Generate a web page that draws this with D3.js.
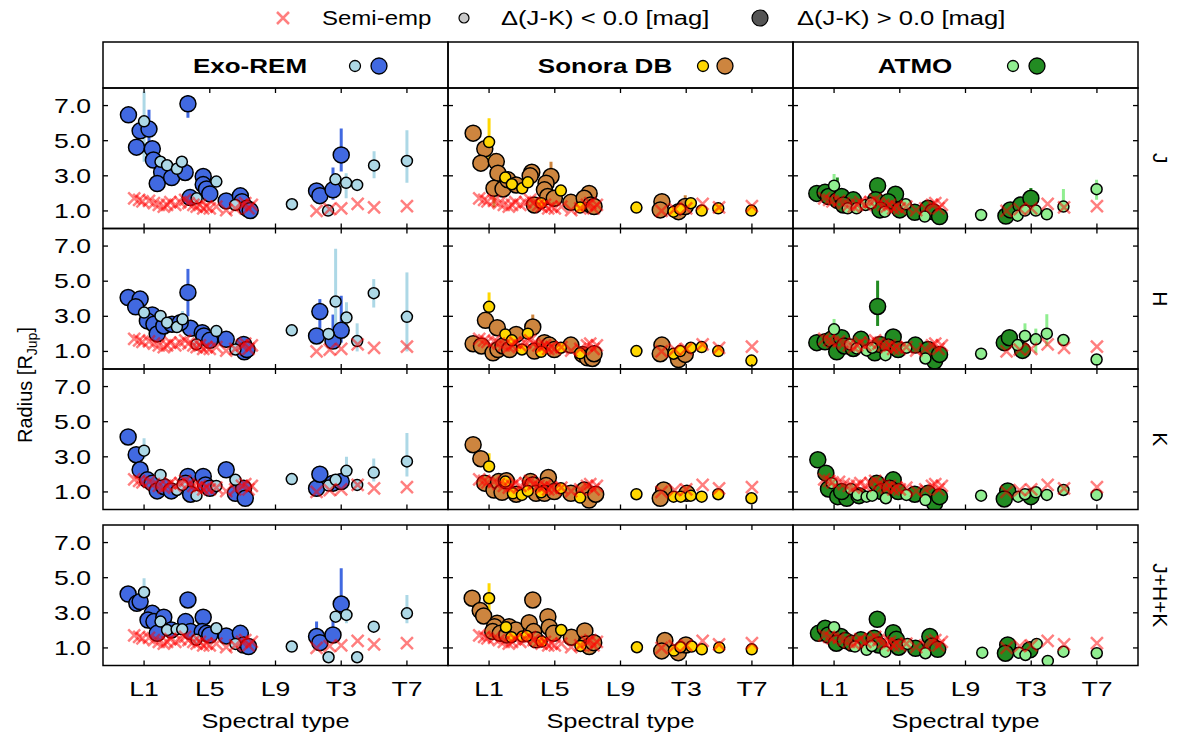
<!DOCTYPE html>
<html><head><meta charset="utf-8">
<script src="https://cdn.jsdelivr.net/npm/d3@7"></script>
<style>body{margin:0;background:#fff}text{font-family:"Liberation Sans",Arial,sans-serif}</style>
</head><body><svg id="c" width="1180" height="734"></svg>
<script>
const models = ["Exo-REM","Sonora DB","ATMO"];
const bands = ["J","H","K","J+H+K"];
const bigColors = ["#4169e1","#cd853f","#228b22"];
const smallColors = ["#add8e6","#ffd700","#90ee90"];
const xTickVals = [1,5,9,13,17];
const xTickLabels = ["L1","L5","L9","T3","T7"];
const yTickVals = [1,3,5,7];
const yTickLabels = ["1.0","3.0","5.0","7.0"];

// semi-empirical radii [spectral type index, radius]
const semiEmp = [[0.4,1.72],[0.7,1.63],[0.9,1.55],[1.3,1.57],[1.6,1.44],[1.9,1.34],[2.2,1.25],[2.4,1.34],[2.6,1.5],[2.9,1.34],[3.2,1.5],[3.5,1.63],[3.7,1.44],[4.0,1.34],[4.2,1.25],[4.4,1.34],[4.6,1.15],[4.8,1.25],[5.0,1.15],[5.4,1.25],[6.0,1.05],[6.55,1.15],[6.96,1.34],[7.16,1.44],[7.36,1.15],[7.56,1.34],[11.5,1.0],[12.3,1.1],[13.0,1.15],[14.0,1.4],[15.0,1.2],[17.0,1.28]];

// [spt, radius, big(ΔJ-K>0), errLow, errHigh]
const exoremJ = [[0.05,6.47,1],[3.67,7.1,1,6.3,7.6],[0.76,5.56,1],[1.3,5.66,1,4.76,6.76],[0.54,4.63,1],[1.5,4.54,1],[1.57,3.9,1],[2.07,3.2,1],[1.8,2.56,1],[2.68,2.9,1],[3.5,3.19,1],[4.6,2.96,1],[4.6,2.5,1],[4.8,2.25,1],[5.0,1.97,1],[3.8,1.76,1],[6.0,1.57,1],[6.86,1.86,1],[6.96,1.53,1],[7.26,1.15,1],[7.46,1.02,1],[11.5,2.14,1],[11.7,1.87,1],[12.5,2.2,1,1.63,3.47],[13.0,4.19,1,3.24,5.7],
 [1.0,6.1,0,3.8,7.8],[2.0,3.8,0],[2.4,3.6,0],[3.0,3.4,0],[3.3,3.8,0,3.5,4.1],[5.4,2.67,0],[4.2,1.72,0],[6.55,1.34,0],[10.0,1.38,0],[12.2,1.02,0],[12.65,2.8,0],[13.3,2.6,0,1.72,3.15],[13.97,2.48,0],[15.0,3.59,0,2.86,4.4],[17.0,3.85,0,2.6,5.6]];
const exoremH = [[0.03,4.07,1],[0.76,3.98,1],[0.49,3.54,1],[1.5,3.08,1],[1.2,2.74,1],[1.6,2.55,1],[1.8,2.0,1],[2.2,2.45,1],[2.7,2.55,1],[3.67,4.36,1,3.0,5.7],[3.83,2.32,1],[3.2,2.64,1],[4.54,2.07,1],[4.64,1.88,1],[5.0,1.63,1],[6.0,1.69,1],[7.06,1.4,1],[7.1,0.98,1],[7.26,1.11,1],[11.5,1.88,1],[11.7,3.27,1,2.3,3.98],[12.5,1.59,1,1.3,3.1],[13.0,2.2,1,1.5,4.17],
 [1.0,3.21,0],[2.0,3.02,0],[2.4,2.64,0],[3.0,2.39,0],[3.34,2.83,0,2.6,3.3],[5.4,2.16,0,1.9,2.5],[4.19,1.4,0],[6.56,1.11,0],[9.99,2.2,0],[12.23,2.0,0],[12.66,3.84,0,1.69,6.84],[13.32,2.93,0,2.0,3.8],[13.97,1.59,0,1.0,2.6],[14.98,4.32,0,3.5,5.12],[17.0,2.97,0,1.0,5.5]];
const exoremK = [[0.03,4.13,1],[0.52,3.12,1],[0.76,2.26,1],[1.2,1.69,1],[1.5,1.5,1],[1.8,1.06,1],[2.2,1.31,1],[2.66,1.06,1],[3.67,1.88,1],[3.53,1.5,1],[3.83,0.87,1],[4.6,1.88,1],[4.74,1.4,1],[5.0,1.21,1],[6.0,2.26,1],[6.56,0.92,1],[7.06,1.21,1],[7.16,0.64,1],[11.5,1.21,1],[11.7,2.01,1],[12.5,1.5,1],[13.0,1.59,1],
 [1.0,3.35,0,2.9,4.05],[2.0,1.97,0],[3.0,1.11,0],[3.34,1.4,0],[4.19,0.79,0],[5.4,1.34,0],[6.56,1.69,0],[9.99,1.73,0],[12.23,1.36,0],[12.66,1.69,0],[13.32,2.2,0,1.8,3.0],[13.97,1.4,0],[14.98,2.1,0,1.6,2.9],[17.0,2.74,0,1.88,4.36]];
const exoremJHK = [[0.03,4.07,1],[0.56,3.54,1],[0.76,3.64,1],[1.5,2.97,1],[1.24,2.59,1],[1.6,2.5,1],[1.8,1.83,1],[2.2,2.75,1],[2.66,2.02,1],[3.67,3.73,1],[3.53,2.5,1],[3.83,1.93,1],[4.6,2.75,1],[4.54,1.93,1],[4.8,1.83,1],[5.0,1.74,1],[6.0,1.68,1],[6.86,1.83,1],[7.06,1.17,1],[7.36,1.08,1],[11.5,1.65,1,1.55,2.5],[11.7,1.3,1],[12.5,1.74,1,1.6,2.6],[13.0,3.5,1,2.69,5.54],
 [1.0,4.17,0,3.92,4.97],[2.0,2.5,0],[2.4,2.02,0],[2.98,2.06,0],[3.32,2.06,0],[5.4,2.12,0],[4.19,1.46,0],[6.56,1.23,0],[9.99,1.08,0],[12.23,0.47,0],[12.66,2.78,0],[13.32,2.88,0,2.4,3.2],[13.97,0.47,0],[14.98,2.21,0],[17.0,2.97,0,2.4,4.02]];

const sonoraJ = [[0.03,5.43,1],[0.74,4.54,1],[0.5,3.72,1],[1.44,3.81,1],[1.54,3.15,1],[1.3,2.29,1,1.2,4.3],[1.85,2.25,1],[2.15,2.77,1],[2.65,2.48,1],[3.6,3.2,1],[3.5,3.0,1],[4.77,2.96,1,2.9,3.8],[4.47,2.58,1],[4.37,2.2,1],[4.57,1.82,1],[4.97,1.72,1],[3.76,1.34,1],[5.98,1.49,1],[7.09,2.0,1],[6.79,1.72,1],[7.19,1.34,1],[7.39,1.25,1],[11.52,1.53,1],[11.42,1.06,1],[12.53,0.96,1],[12.94,1.25,1,1.1,1.9],
 [1.0,4.92,0,3.9,6.28],[1.99,2.9,0],[2.39,2.52,0],[3.02,2.29,0],[3.36,2.63,0],[5.37,2.16,0],[4.17,1.44,0],[6.54,1.19,0],[9.97,1.19,0],[12.23,0.96,0],[12.63,1.1,0],[13.28,1.44,0],[13.94,1.02,0],[14.95,1.15,0],[16.97,1.02,0]];
const sonoraH = [[0.03,1.44,1],[0.54,1.31,1],[0.78,2.77,1],[1.5,2.35,1],[1.24,0.92,1],[1.54,1.11,1],[1.85,1.31,1],[2.25,1.11,1],[2.65,1.97,1],[3.66,2.39,1,2.2,3.1],[3.76,1.02,1],[4.37,1.5,1],[4.67,1.36,1],[4.97,1.11,1],[5.98,1.36,1],[6.69,0.83,1],[6.99,0.64,1],[7.29,0.6,1],[7.39,0.87,1],[11.52,1.36,1],[11.42,0.87,1],[12.53,0.54,1],[12.94,0.83,1],
 [1.0,3.54,0,3.2,4.36],[1.99,1.97,0],[2.39,1.63,0],[3.0,1.11,0],[3.36,2.01,0],[5.37,1.21,0],[4.17,0.98,0],[6.54,0.89,0],[9.97,1.02,0],[12.23,0.87,0],[12.63,1.02,0],[13.28,1.21,0],[13.94,1.25,0],[14.95,1.02,0],[16.97,0.48,0]];
const sonoraK = [[0.03,3.69,1],[0.5,2.89,1],[0.74,1.5,1],[1.3,1.11,1],[1.58,1.59,1],[1.79,0.98,1],[2.05,1.63,1],[2.65,0.87,1],[3.52,1.59,1],[3.66,1.4,1],[3.86,0.92,1],[4.61,1.82,1],[4.47,1.36,1],[4.37,0.92,1],[4.97,1.02,1],[5.98,0.92,1],[6.79,1.11,1],[7.09,0.54,1],[7.49,0.87,1],[11.63,1.11,1],[11.42,0.64,1],[13.04,0.92,1],
 [1.0,2.45,0,2.3,3.2],[1.99,1.59,0],[2.45,0.92,0],[3.0,0.83,0],[3.36,1.06,0],[5.37,1.21,0],[4.17,0.98,0],[6.54,0.68,0],[9.97,0.87,0],[12.23,0.73,0],[12.67,0.73,0],[13.28,0.79,0],[13.94,0.73,0],[14.95,0.87,0],[16.97,0.64,0]];
const sonoraJHK = [[-0.03,3.83,1],[0.46,3.13,1],[0.67,2.82,1],[1.49,2.4,1],[1.33,2.21,1],[1.22,1.93,1],[1.68,1.83,1],[2.22,2.21,1],[2.08,1.74,1],[2.63,2.02,1],[3.66,3.73,1],[3.44,2.44,1],[3.71,1.93,1],[3.85,1.46,1],[4.58,2.78,1],[4.66,2.18,1],[4.93,1.83,1],[6.01,1.61,1],[6.83,1.97,1],[6.91,1.23,1],[7.1,1.08,1],[7.37,1.3,1],[11.7,1.42,1],[11.51,0.83,1],[12.52,0.73,1],[12.98,1.17,1],
 [1.0,3.83,0,3.16,4.68],[2.03,2.18,0],[2.36,1.61,0],[3.03,1.65,0],[3.3,1.68,0],[5.39,2.02,0],[4.2,1.36,0],[6.56,1.11,0],[10.0,1.04,0],[12.25,0.85,0],[12.65,1.04,0],[13.33,1.08,0],[13.95,0.92,0],[15.01,1.02,0],[16.99,0.92,0]];

const atmoJ = [[-0.05,2.0,1],[0.45,2.06,1],[0.66,1.82,1],[1.2,1.6,1,1.6,2.9],[1.46,1.82,1],[2.17,1.63,1],[1.57,1.34,1],[3.65,2.44,1],[3.53,1.63,1],[4.74,1.95,1],[4.29,1.53,1],[3.79,1.06,1],[5.0,1.06,1],[5.91,0.92,1],[6.72,1.15,1],[7.02,0.96,1],[7.42,0.68,1],[11.46,0.71,1],[11.73,1.06,1],[12.37,1.34,1],[12.98,1.72,1,1.5,2.3],
 [1.0,2.44,0,2.3,3.1],[1.83,1.15,0],[2.37,1.15,0],[2.92,1.34,0],[3.24,1.44,0],[5.36,1.38,0],[4.09,0.96,0],[6.52,0.68,0],[9.95,0.77,0],[12.17,0.73,0],[12.62,1.02,0],[13.28,1.02,0],[13.95,0.81,0],[14.96,1.25,0,1.2,2.25],[16.98,2.24,0,1.63,2.77]];
const atmoH = [[-0.05,1.5,1],[0.45,1.55,1],[0.82,1.69,1],[1.46,1.78,1],[1.16,0.98,1],[1.63,1.31,1],[2.17,1.17,1],[2.64,1.69,1],[3.65,3.56,1,2.45,5.03],[3.48,0.92,1],[3.79,1.4,1],[4.6,1.82,1],[4.29,1.25,1],[4.9,1.11,1],[5.95,1.36,1],[6.72,1.11,1],[7.12,0.45,1],[7.42,0.83,1],[11.36,1.5,1],[11.67,1.78,1],[12.47,1.06,1],
 [1.0,2.26,0,2.0,2.85],[1.97,1.4,0],[2.37,1.17,0],[2.98,1.06,0],[3.32,1.21,0],[5.4,1.21,0],[4.13,0.79,0],[6.56,0.6,0],[9.95,0.87,0],[12.17,1.36,0],[12.62,1.88,0,0.7,2.6],[13.28,1.69,0,0.9,2.3],[13.95,2.01,0,1.31,3.12],[14.96,1.65,0],[16.98,0.54,0]];
const atmoK = [[0.01,2.83,1],[0.5,2.07,1],[0.66,1.17,1],[1.22,0.73,1],[1.77,0.64,1],[1.46,1.02,1],[2.52,0.79,1],[3.59,1.5,1],[3.89,1.02,1],[4.6,1.69,1],[4.39,1.21,1],[4.9,1.02,1],[5.91,0.87,1],[6.72,0.92,1],[7.12,0.35,1],[7.42,0.73,1],[11.57,1.06,1],[11.36,0.6,1],[12.98,0.73,1],
 [0.86,1.5,0],[2.03,1.17,0],[2.43,0.83,0],[2.98,0.73,0],[3.32,0.79,0],[5.4,0.83,0],[4.15,0.64,0],[6.56,0.54,0],[9.95,0.79,0],[12.21,0.73,0],[12.62,0.87,0],[13.28,0.98,0],[13.95,0.83,0],[14.96,1.11,0],[16.98,0.83,0]];
const atmoJHK = [[0.05,1.83,1],[0.46,2.12,1],[0.65,1.74,1],[1.41,1.65,1],[1.14,1.27,1],[1.68,1.42,1],[2.08,1.27,1],[2.63,1.46,1],[3.63,2.63,1],[3.44,1.55,1],[3.71,1.17,1],[4.6,1.87,1],[4.79,1.49,1],[4.93,1.04,1],[5.96,0.98,1],[6.83,1.65,1],[6.96,1.11,1],[7.31,0.92,1],[11.57,1.17,1],[11.43,0.7,1],[12.92,0.89,1],
 [1.0,2.18,0],[2.27,1.08,0],[2.98,0.89,0],[3.3,1.11,0],[5.47,1.23,0],[4.12,0.79,0],[6.56,0.7,0],[10.02,0.73,0],[12.25,0.73,0],[12.65,0.6,0],[13.33,1.23,0],[14.01,0.26,0],[14.96,0.79,0],[16.99,0.7,0]];

const panelData = [
  [exoremJ, exoremH, exoremK, exoremJHK],
  [sonoraJ, sonoraH, sonoraK, sonoraJHK],
  [atmoJ, atmoH, atmoK, atmoJHK]
];

// ---------- layout ----------
const svg = d3.select("#c");
const colX = [103, 448, 793], colW = 345;
const rowY = [88, 228.5, 369, 525], rowH = 140.5;
const headTop = 42;
const x = d3.scaleLinear().domain([-1.5, 19.5]).range([0, colW]);
const y = d3.scaleLinear().domain([0, 8]).range([rowH, 0]);
const FS = 20;
const crossPath = "M-6,-6L6,6M-6,6L6,-6";

// horizontally stretched text helper (the reference glyphs are wide)
function htext(parent, tx, ty, str, opts) {
  const o = Object.assign({size: FS, sx: 1.3, anchor: "start", weight: "normal"}, opts || {});
  return parent.append("text")
    .attr("transform", `translate(${tx},${ty}) scale(${o.sx},1)`)
    .attr("text-anchor", o.anchor).attr("font-size", o.size).attr("font-weight", o.weight)
    .text(str);
}

// headers
const titleCx = [147, 157, 122];
const markX = [[252, 276], [255, 277], [220, 244]];
models.forEach((m, ci) => {
  const g = svg.append("g").attr("transform", `translate(${colX[ci]},${headTop})`);
  g.append("rect").attr("width", colW).attr("height", rowY[0] - headTop).attr("fill", "none").attr("stroke", "#000").attr("stroke-width", 1.5);
  htext(g, titleCx[ci], 31, m, {anchor: "middle", weight: "bold", sx: 1.3});
  g.append("circle").attr("cx", markX[ci][0]).attr("cy", 24).attr("r", 5.5).attr("fill", smallColors[ci]).attr("stroke", "#000").attr("stroke-width", 1.3);
  g.append("circle").attr("cx", markX[ci][1]).attr("cy", 24).attr("r", 8).attr("fill", bigColors[ci]).attr("stroke", "#000").attr("stroke-width", 1.3);
});

// panels
models.forEach((m, ci) => {
  bands.forEach((b, ri) => {
    const g = svg.append("g").attr("transform", `translate(${colX[ci]},${rowY[ri]})`);
    const data = panelData[ci][ri];
    const clip = `clip${ci}${ri}`;
    g.append("clipPath").attr("id", clip).append("rect").attr("width", colW).attr("height", rowH);
    const inner = g.append("g").attr("clip-path", `url(#${clip})`);
    inner.selectAll("line.err").data(data.filter(d => d.length > 3)).join("line")
      .attr("x1", d => x(d[0])).attr("x2", d => x(d[0]))
      .attr("y1", d => y(d[3])).attr("y2", d => y(d[4]))
      .attr("stroke", d => d[2] ? bigColors[ci] : smallColors[ci]).attr("stroke-width", 3);
    inner.selectAll("circle.big").data(data.filter(d => d[2] === 1)).join("circle")
      .attr("cx", d => x(d[0])).attr("cy", d => y(d[1])).attr("r", 8)
      .attr("fill", bigColors[ci]).attr("stroke", "#000").attr("stroke-width", 1.5);
    inner.selectAll("circle.small").data(data.filter(d => d[2] === 0)).join("circle")
      .attr("cx", d => x(d[0])).attr("cy", d => y(d[1])).attr("r", 5.5)
      .attr("fill", smallColors[ci]).attr("stroke", "#000").attr("stroke-width", 1.5);
    inner.selectAll("path.se").data(semiEmp).join("path")
      .attr("transform", d => `translate(${x(d[0])},${y(d[1])})`)
      .attr("d", crossPath).attr("fill", "none").attr("stroke", "#ff0000").attr("stroke-opacity", 0.5).attr("stroke-width", 2.5);
    const tk = 5;
    g.selectAll("line.xb").data(xTickVals).join("line").attr("x1", d => x(d)).attr("x2", d => x(d)).attr("y1", rowH).attr("y2", rowH - tk).attr("stroke", "#000").attr("stroke-width", 1.3);
    g.selectAll("line.xt").data(xTickVals).join("line").attr("x1", d => x(d)).attr("x2", d => x(d)).attr("y1", 0).attr("y2", tk).attr("stroke", "#000").attr("stroke-width", 1.3);
    g.selectAll("line.yl").data(yTickVals).join("line").attr("y1", d => y(d)).attr("y2", d => y(d)).attr("x1", 0).attr("x2", tk).attr("stroke", "#000").attr("stroke-width", 1.3);
    g.selectAll("line.yr").data(yTickVals).join("line").attr("y1", d => y(d)).attr("y2", d => y(d)).attr("x1", colW).attr("x2", colW - tk).attr("stroke", "#000").attr("stroke-width", 1.3);
    g.append("rect").attr("width", colW).attr("height", rowH).attr("fill", "none").attr("stroke", "#000").attr("stroke-width", 1.5);
    if (ci === 0) {
      yTickVals.forEach((v, i) => htext(g, -12, y(v) + 7, yTickLabels[i], {anchor: "end", sx: 1.33}));
    }
    if (ri === 3) {
      xTickVals.forEach((v, i) => htext(g, x(v), rowH + 30, xTickLabels[i], {anchor: "middle", sx: 1.33}));
      htext(g, colW / 2, rowH + 62, "Spectral type", {anchor: "middle", sx: 1.27});
    }
    if (ci === 2) {
      g.append("text").attr("transform", `translate(${colW + 15},${rowH / 2}) rotate(90)`)
        .attr("text-anchor", "middle").attr("font-size", 21).text(b);
    }
  });
});

// y label
const yl = svg.append("text").attr("transform", "translate(32,385) rotate(-90)").attr("text-anchor", "middle").attr("font-size", 20);
yl.append("tspan").text("Radius [R");
yl.append("tspan").attr("font-size", 14).attr("dy", 5).text("Jup");
yl.append("tspan").attr("dy", -5).text("]");

// legend
const lg = svg.append("g").attr("transform", "translate(0,18)");
lg.append("path").attr("transform", "translate(283,0)").attr("d", crossPath).attr("fill", "none").attr("stroke", "#ff0000").attr("stroke-opacity", 0.5).attr("stroke-width", 2.5);
htext(lg, 322, 7, "Semi-emp", {sx: 1.2});
lg.append("circle").attr("cx", 464).attr("cy", 0).attr("r", 5).attr("fill", "#c8c8c8").attr("stroke", "#000").attr("stroke-width", 1.2);
htext(lg, 501, 7, "Δ(J-K) < 0.0 [mag]", {sx: 1.28});
lg.append("circle").attr("cx", 760).attr("cy", 0).attr("r", 8).attr("fill", "#555").attr("stroke", "#000").attr("stroke-width", 1.2);
htext(lg, 797, 7, "Δ(J-K) > 0.0 [mag]", {sx: 1.28});
</script></body></html>
